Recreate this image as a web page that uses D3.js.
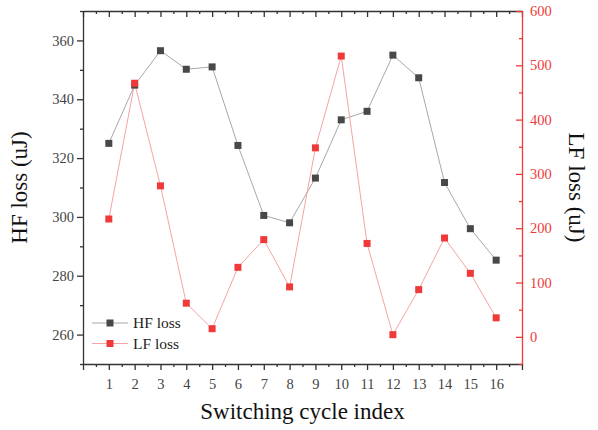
<!DOCTYPE html>
<html>
<head>
<meta charset="utf-8">
<script src="https://cdn.jsdelivr.net/npm/d3@7"></script>
<style>
  body { margin: 0; background: #fff; }
  svg { display: block; }
</style>
</head>
<body>
<svg id="chart" width="598" height="430"></svg>
<script>
// data
const cycles = [1, 2, 3, 4, 5, 6, 7, 8, 9, 10, 11, 12, 13, 14, 15, 16];
const hfLoss = [325, 344.8, 356.5, 350.2, 351, 324.3, 300.5, 298, 313.2, 333, 335.9, 355, 347.3, 311.7, 296, 285.3];
const lfLoss = [217, 467, 278, 62, 15, 128, 179, 92, 348, 517, 172, 4, 87, 182, 117, 35];
const hfTicks = [260, 280, 300, 320, 340, 360];
const lfTicks = [0, 100, 200, 300, 400, 500, 600];

const svg = d3.select("#chart");
const margin = { top: 11, right: 76, bottom: 66, left: 83 };
const W = 598, H = 430;
const innerW = W - margin.left - margin.right;
const innerH = H - margin.top - margin.bottom;

const g = svg.append("g").attr("transform", `translate(${margin.left},${margin.top})`);

const x = d3.scaleLinear().domain([0, 17]).range([0, innerW]);
const yL = d3.scaleLinear().domain([250, 370]).range([innerH, 0]);
const yR = d3.scaleLinear().domain([-50, 600]).range([innerH, 0]);

const font = "'Liberation Serif', 'Times New Roman', serif";
const axisCol = "#333";
const red = "#f03a3a";

// bottom axis, major + minor ticks outward
const xMajor = d3.range(0, 18);
const xMinor = d3.range(0.5, 17, 1);
const bottomAxis = g.append("g").attr("transform", `translate(0,${innerH})`);
bottomAxis.call(d3.axisBottom(x).tickValues(xMajor).tickSize(6).tickSizeOuter(0)
  .tickFormat(d => (d >= 1 && d <= 16) ? d : ""));
bottomAxis.append("g").call(d3.axisBottom(x).tickValues(xMinor).tickSize(3).tickFormat(""))
  .select(".domain").remove();
bottomAxis.selectAll("line, path").attr("stroke", axisCol).attr("stroke-width", 1.3);
bottomAxis.attr("font-family", font);
bottomAxis.selectAll("text").attr("font-size", 14.5)
  .attr("fill", "#444").attr("dy", "1.1em");

// top axis, ticks inward
const topAxis = g.append("g");
topAxis.call(d3.axisBottom(x).tickValues(xMajor).tickSize(6).tickSizeOuter(0).tickFormat(""));
topAxis.append("g").call(d3.axisBottom(x).tickValues(xMinor).tickSize(3).tickFormat(""))
  .select(".domain").remove();
topAxis.selectAll("line, path").attr("stroke", axisCol).attr("stroke-width", 1.3);

// left axis
const leftAxis = g.append("g");
leftAxis.call(d3.axisLeft(yL).tickValues(hfTicks).tickSize(6).tickSizeOuter(0).tickFormat(d3.format("d")));
leftAxis.append("g").call(d3.axisLeft(yL).tickValues(d3.range(250, 371, 10).filter(v => v % 20 !== 0)).tickSize(3).tickFormat(""))
  .select(".domain").remove();
leftAxis.selectAll("line, path").attr("stroke", axisCol).attr("stroke-width", 1.3);
leftAxis.attr("font-family", font);
leftAxis.selectAll("text").attr("font-size", 14.5).attr("fill", "#444").attr("x", -9);

// right axis (red), ticks inward
const rightAxis = g.append("g").attr("transform", `translate(${innerW},0)`);
rightAxis.call(d3.axisRight(yR).tickValues(lfTicks).tickSize(-6).tickSizeOuter(0).tickFormat(d3.format("d")));
rightAxis.append("g").call(d3.axisRight(yR).tickValues(d3.range(-50, 601, 50).filter(v => v % 100 !== 0)).tickSize(-3).tickFormat(""))
  .select(".domain").remove();
rightAxis.selectAll("line, path").attr("stroke", red).attr("stroke-width", 1.3);
rightAxis.attr("font-family", font);
rightAxis.selectAll("text").attr("font-size", 14.5).attr("fill", red).attr("x", 8);

// series
const hfData = cycles.map((c, i) => ({ c, v: hfLoss[i] }));
const lfData = cycles.map((c, i) => ({ c, v: lfLoss[i] }));
const ms = 7;

g.append("path").datum(hfData)
  .attr("fill", "none").attr("stroke", "#a8a8a8").attr("stroke-width", 1)
  .attr("d", d3.line().x(d => x(d.c)).y(d => yL(d.v)));
g.append("path").datum(lfData)
  .attr("fill", "none").attr("stroke", "#f5a3a3").attr("stroke-width", 1)
  .attr("d", d3.line().x(d => x(d.c)).y(d => yR(d.v)));

g.selectAll(".hf").data(hfData).join("rect").attr("class", "hf")
  .attr("x", d => x(d.c) - ms / 2).attr("y", d => yL(d.v) - ms / 2)
  .attr("width", ms).attr("height", ms).attr("fill", "#484848");
g.selectAll(".lf").data(lfData).join("rect").attr("class", "lf")
  .attr("x", d => x(d.c) - ms / 2).attr("y", d => yR(d.v) - ms / 2)
  .attr("width", ms).attr("height", ms).attr("fill", red);

// legend
const legend = g.append("g").attr("transform", "translate(9,312)");
const items = [
  { name: "HF loss", line: "#a8a8a8", mark: "#484848" },
  { name: "LF loss", line: "#f5a3a3", mark: red }
];
items.forEach((it, i) => {
  const row = legend.append("g").attr("transform", `translate(0,${i * 20.5})`);
  row.append("line").attr("x1", 0).attr("x2", 36).attr("y1", 0).attr("y2", 0)
    .attr("stroke", it.line).attr("stroke-width", 1);
  row.append("rect").attr("x", 18 - ms / 2).attr("y", -ms / 2).attr("width", ms).attr("height", ms)
    .attr("fill", it.mark);
  row.append("text").attr("x", 41).attr("y", 5).attr("font-family", font).attr("font-size", 15.5)
    .attr("fill", "#222").text(it.name);
});

// axis titles
svg.append("text").attr("transform", `translate(27,${margin.top + innerH / 2}) rotate(-90)`)
  .attr("text-anchor", "middle").attr("font-family", font).attr("font-size", 23).attr("fill", "#111")
  .text("HF loss (uJ)");
svg.append("text").attr("transform", `translate(569,${margin.top + innerH / 2}) rotate(90)`)
  .attr("text-anchor", "middle").attr("font-family", font).attr("font-size", 23).attr("fill", "#111")
  .text("LF loss (uJ)");
svg.append("text").attr("x", margin.left + innerW / 2).attr("y", 419)
  .attr("text-anchor", "middle").attr("font-family", font).attr("font-size", 23).attr("fill", "#111")
  .text("Switching cycle index");
</script>
</body>
</html>
